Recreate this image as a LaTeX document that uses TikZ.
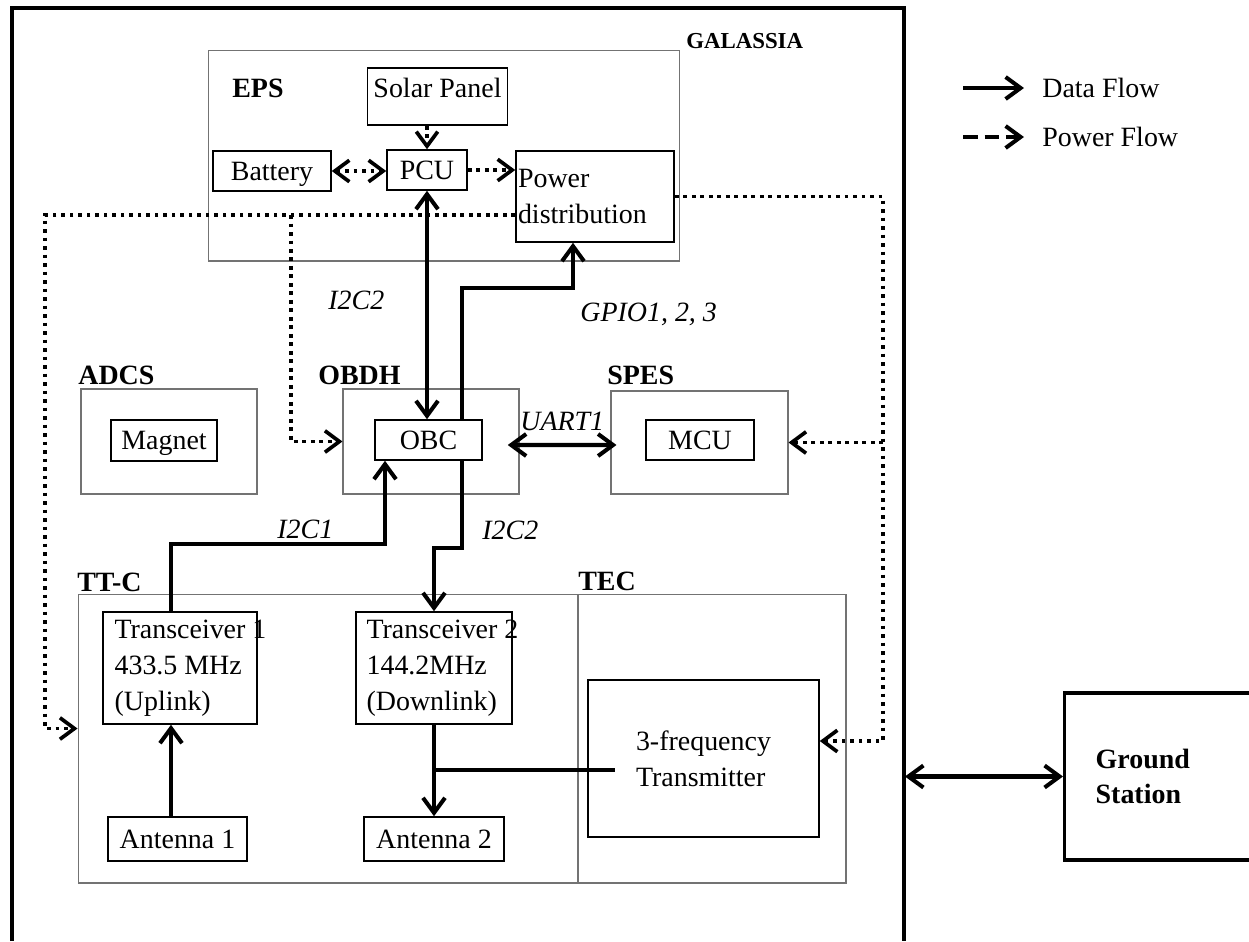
\documentclass[tikz,border=0pt]{standalone}
\usepackage{fontspec}
\setmainfont{Liberation Serif}
\usepackage{tikz}
\usetikzlibrary{positioning, arrows.meta}
\newcommand{\dfont}{\fontsize{15.9}{20.4}\selectfont}

\begin{document}
\begin{tikzpicture}[x=0.02cm,y=-0.02cm,
    grp/.style={draw=black!55,line width=0.6pt,inner sep=0pt},
    blk/.style={draw,line width=0.9pt,font=\dfont,inner ysep=0pt,text height=14.5pt,text depth=3.9pt},
    mblk/.style={draw,line width=0.9pt,font=\dfont,align=left},
    txt/.style={font=\dfont,align=left,inner ysep=0pt},
    lbl/.style={font=\dfont\bfseries,inner sep=0pt,anchor=west},
    itl/.style={font=\dfont\itshape,inner sep=0pt,anchor=west},
    data/.style={line width=2.3pt,>={Straight Barb[length=3mm,width=4.4mm]}},
    pwr/.style={line width=2.1pt,dash pattern=on 0.75mm off 0.95mm,>={Straight Barb[length=2.9mm,width=4.3mm]}}]
  \useasboundingbox (0,0) rectangle (1249,941);
  \clip (0,0) rectangle (1249,941);
  % satellite frame
  \draw[line width=1.9pt] (12,941) -- (12,8) -- (904,8) -- (904,941);
  \node[lbl,font=\fontsize{13}{16}\selectfont\bfseries](gal) at (686,41){GALASSIA};
  % subsystem groups
  \node[grp,minimum width=9.44cm,minimum height=4.22cm](eps) at (444,155.5){};
  \node[grp,minimum width=3.52cm,minimum height=2.1cm](adcs) at (169,441.5){};
  \node[grp,minimum width=3.52cm,minimum height=2.1cm](obdh) at (431,441.5){};
  \node[grp,minimum width=3.54cm,minimum height=2.06cm](spes) at (699.5,442.5){};
  \node[grp,minimum width=10cm,minimum height=5.78cm](ttc) at (328,738.5){};
  \node[grp,minimum width=5.36cm,minimum height=5.78cm](tec) at (712,738.5){};
  \node[lbl](epsl) at (232,88){EPS};
  \node[lbl](adcsl) at (78,375){ADCS};
  \node[lbl](obdhl) at (318,375){OBDH};
  \node[lbl](spesl) at (607,375){SPES};
  \node[lbl](ttcl) at (77,582){TT-C};
  \node[lbl](tecl) at (578,581){TEC};
  % blocks
  \node[blk,text depth=13.1pt,minimum width=2.7cm,minimum height=1.14cm](sp) at (437.5,96.5){Solar Panel};
  \node[blk,minimum width=2.36cm,minimum height=0.8cm](bat) at (272,171){Battery};
  \node[blk,minimum width=1.6cm,minimum height=0.8cm](pcu) at (427,170){PCU};
  \node[mblk,inner sep=0.04cm,text width=3.08cm,minimum width=3.16cm,minimum height=1.82cm](pd) at (595,196.5){Power\\distribution};
  \node[blk,minimum width=2.12cm,minimum height=0.82cm](mag) at (164,440.5){Magnet};
  \node[blk,minimum width=2.14cm,minimum height=0.8cm](obc) at (428.5,440){OBC};
  \node[blk,minimum width=2.16cm,minimum height=0.8cm](mcu) at (700,440){MCU};
  \node[blk,minimum width=3.08cm,minimum height=2.24cm](t1) at (180,668){};
  \node[txt,anchor=west,inner xsep=0.24cm](t1t) at (t1.west){Transceiver 1\\433.5 MHz\\(Uplink)};
  \node[blk,minimum width=3.12cm,minimum height=2.24cm](t2) at (434,668){};
  \node[txt,anchor=west,inner xsep=0.22cm](t2t) at (t2.west){Transceiver 2\\144.2MHz\\(Downlink)};
  \node[blk,minimum width=2.78cm,minimum height=0.88cm](a1) at (177.5,839){Antenna 1};
  \node[blk,minimum width=2.8cm,minimum height=0.88cm](a2) at (434,839){Antenna 2};
  \node[mblk,minimum width=4.62cm,minimum height=3.14cm](tx) at (703.5,758.5){3-frequency\\Transmitter};
  \node[draw,line width=1.9pt,font=\dfont\bfseries,anchor=west,align=left,inner xsep=0.62cm,text width=3.76cm,minimum width=5cm,minimum height=3.34cm](gs) at (1063,776.5){Ground\\Station};
  % bus corners
  \coordinate (lbus) at (45,215);
  \coordinate (obus) at (291,215);
  \coordinate (rbus) at (883,196.5);
  \coordinate (gp) at (462,288);
  \coordinate (lb) at (462,548);
  \coordinate (la) at (171,544);
  \coordinate (sj) at (434,770);
  \coordinate (txl) at (615,770);
  \coordinate (galr) at (905,776.5);
  % power flow
  \draw[pwr,->](sp.south -| pcu.north)--(pcu.north);
  \draw[pwr,<->](bat.east)--(bat.east -| pcu.west);
  \draw[pwr,->](pcu.east)--(pcu.east -| pd.west);
  \draw[pwr,->](lbus -| pd.west)--(lbus)|-([yshift=0.2cm]ttc.west);
  \draw[pwr,->](obus)|-(obdh.west);
  \draw[pwr,->](pd.east)--(rbus)|-([yshift=0.35cm]tx.east);
  \draw[pwr,->](rbus |- spes.east)--(spes.east);
  % data flow
  \draw[data,<->](pcu.south)--(pcu.south |- obc.north);
  \draw[data,->](obc.north -| gp)--(gp)-|([xshift=-0.44cm]pd.south);
  \draw[data,->](obc.south -| lb)--(lb)-|(t2.north);
  \draw[data,->](t1.north -| la)--(la)-|([xshift=-0.87cm]obc.south);
  \draw[data,<->]([xshift=0.5cm,yshift=-0.1cm]obc.east)--([xshift=0.12cm,yshift=-0.05cm]spes.west);
  \draw[data,->](a1.north -| la)--(t1.south -| la);
  \draw[data,->](t2.south)--(a2.north);
  \draw[data](sj)--(txl);
  \draw[data,<->](galr)--(gs.west);
  % bus labels
  \node[itl](i2c2a) at (328,300){I2C2};
  \node[itl](gpio) at (580,314){GPIO1, 2, 3};
  \node[itl](uart) at (520,421){UART1};
  \node[itl](i2c1) at (277,529){I2C1};
  \node[itl](i2c2b) at (482,530){I2C2};
  % legend
  \node[txt,anchor=west,inner sep=0pt](dft) at (1042,88){Data Flow};
  \node[txt,anchor=west,inner sep=0pt](pft) at (1042,137){Power Flow};
  \coordinate (dfa) at (963,88);
  \coordinate (pfa) at (963,137);
  \draw[data,->](dfa)--([xshift=-0.36cm]dft.west);
  \draw[data,->,dash pattern=on 3mm off 1.3mm](pfa)--([xshift=-0.36cm]pft.west);
\end{tikzpicture}
\end{document}
